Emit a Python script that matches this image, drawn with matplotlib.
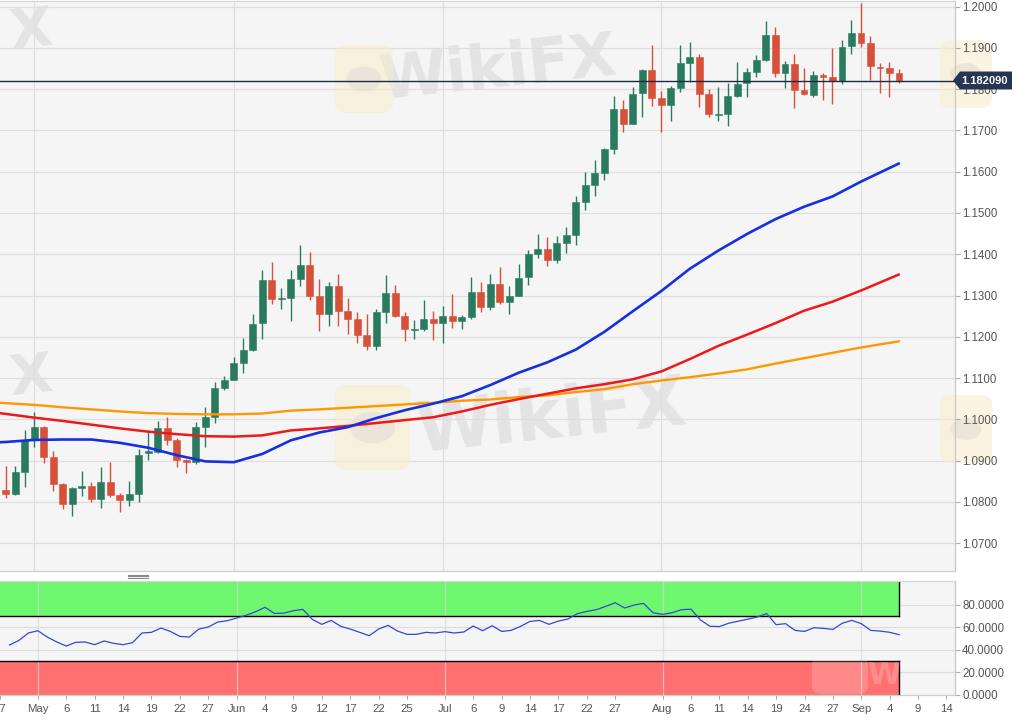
import matplotlib
matplotlib.use("Agg")
import matplotlib.pyplot as plt
import pandas as pd
from matplotlib.patches import Rectangle, Polygon, FancyBboxPatch, Circle

# ---------------- data ----------------
first_day = "2020-04-28"
last_day = "2020-09-07"

opens = [
    1.0829, 1.0819, 1.0872, 1.0952, 1.0981, 1.0908, 1.0843, 1.0795, 1.0833, 1.0838,
    1.0807, 1.0848, 1.0817, 1.0805, 1.0819, 1.0918, 1.0921, 1.0979, 1.0950, 1.0901,
    1.0896, 1.0981, 1.1005, 1.1077, 1.1096, 1.1136, 1.1169, 1.1233, 1.1337, 1.1291,
    1.1294, 1.1341, 1.1375, 1.1299, 1.1255, 1.1323, 1.1263, 1.1243, 1.1205, 1.1177,
    1.1259, 1.1307, 1.1250, 1.1216, 1.1218, 1.1242, 1.1234, 1.1250, 1.1239, 1.1249,
    1.1308, 1.1273, 1.1329, 1.1285, 1.1299, 1.1344, 1.1400, 1.1412, 1.1385, 1.1428,
    1.1447, 1.1526, 1.1569, 1.1596, 1.1656, 1.1751, 1.1716, 1.1791, 1.1847, 1.1778,
    1.1762, 1.1803, 1.1864, 1.1877, 1.1788, 1.1737, 1.1740, 1.1784, 1.1814, 1.1842,
    1.1871, 1.1931, 1.1839, 1.1861, 1.1797, 1.1786, 1.1834, 1.1830, 1.1821, 1.1904,
    1.1937, 1.1912, 1.1854, 1.1851, 1.1839]
highs = [
    1.0886, 1.0886, 1.0973, 1.1017, 1.0983, 1.0922, 1.0845, 1.0835, 1.0874, 1.0848,
    1.0884, 1.0896, 1.0821, 1.0850, 1.0927, 1.0973, 1.0996, 1.1005, 1.0955, 1.0903,
    1.0993, 1.1029, 1.1090, 1.1104, 1.1151, 1.1196, 1.1256, 1.1361, 1.1382, 1.1319,
    1.1363, 1.1422, 1.1405, 1.1339, 1.1332, 1.1353, 1.1293, 1.1261, 1.1254, 1.1268,
    1.1349, 1.1325, 1.1259, 1.1241, 1.1289, 1.1263, 1.1274, 1.1303, 1.1253, 1.1344,
    1.1332, 1.1351, 1.1369, 1.1324, 1.1376, 1.1410, 1.1450, 1.1441, 1.1444, 1.1466,
    1.1541, 1.1600, 1.1628, 1.1658, 1.1783, 1.1773, 1.1805, 1.1848, 1.1908, 1.1796,
    1.1807, 1.1907, 1.1915, 1.1885, 1.1801, 1.1805, 1.1815, 1.1865, 1.1851, 1.1883,
    1.1966, 1.1951, 1.1869, 1.1885, 1.1851, 1.1845, 1.1839, 1.1901, 1.1920, 1.1968,
    1.2010, 1.1928, 1.1864, 1.1865, 1.1848]
lows = [
    1.0809, 1.0817, 1.0836, 1.0933, 1.0895, 1.0826, 1.0783, 1.0766, 1.0814, 1.0800,
    1.0785, 1.0812, 1.0776, 1.0790, 1.0800, 1.0901, 1.0919, 1.0938, 1.0885, 1.0870,
    1.0891, 1.0933, 1.0991, 1.1071, 1.1095, 1.1113, 1.1166, 1.1194, 1.1279, 1.1268,
    1.1239, 1.1322, 1.1288, 1.1214, 1.1225, 1.1227, 1.1206, 1.1185, 1.1169, 1.1167,
    1.1233, 1.1247, 1.1190, 1.1195, 1.1214, 1.1193, 1.1185, 1.1222, 1.1219, 1.1242,
    1.1259, 1.1265, 1.1279, 1.1255, 1.1298, 1.1325, 1.1390, 1.1372, 1.1378, 1.1404,
    1.1423, 1.1508, 1.1541, 1.1581, 1.1643, 1.1697, 1.1715, 1.1733, 1.1760, 1.1697,
    1.1723, 1.1794, 1.1818, 1.1757, 1.1733, 1.1723, 1.1711, 1.1782, 1.1782, 1.1829,
    1.1869, 1.1830, 1.1802, 1.1754, 1.1786, 1.1782, 1.1774, 1.1765, 1.1813, 1.1886,
    1.1902, 1.1822, 1.1790, 1.1781, 1.1814]
closes = [
    1.0819, 1.0872, 1.0951, 1.0981, 1.0909, 1.0843, 1.0795, 1.0833, 1.0838, 1.0807,
    1.0848, 1.0817, 1.0805, 1.0819, 1.0913, 1.0922, 1.0979, 1.0950, 1.0902, 1.0896,
    1.0981, 1.1005, 1.1077, 1.1096, 1.1136, 1.1169, 1.1232, 1.1337, 1.1291, 1.1294,
    1.1340, 1.1375, 1.1300, 1.1255, 1.1323, 1.1263, 1.1243, 1.1205, 1.1177, 1.1259,
    1.1307, 1.1250, 1.1218, 1.1218, 1.1242, 1.1234, 1.1250, 1.1239, 1.1247, 1.1308,
    1.1273, 1.1329, 1.1285, 1.1299, 1.1343, 1.1400, 1.1412, 1.1385, 1.1428, 1.1446,
    1.1526, 1.1569, 1.1596, 1.1656, 1.1751, 1.1716, 1.1789, 1.1847, 1.1778, 1.1762,
    1.1802, 1.1863, 1.1877, 1.1789, 1.1739, 1.1740, 1.1783, 1.1813, 1.1842, 1.1871,
    1.1931, 1.1839, 1.1861, 1.1797, 1.1788, 1.1834, 1.1830, 1.1821, 1.1903, 1.1937,
    1.1913, 1.1856, 1.1852, 1.1840, 1.18209]

# moving averages, read at every third trading day (0 = Apr 28)
ma_day = [-1, 0, 3, 6, 9, 12, 15, 18, 21, 24, 27, 30, 33, 36, 39, 42, 45, 48,
          51, 54, 57, 60, 63, 66, 69, 72, 75, 78, 81, 84, 87, 90, 94]
ma_blue = [1.0944, 1.0945, 1.0950, 1.0951, 1.0951, 1.0943, 1.0931, 1.0913, 1.0898,
           1.0896, 1.0916, 1.0949, 1.0968, 1.0981, 1.1003, 1.1022, 1.1038, 1.1056,
           1.1083, 1.1113, 1.1138, 1.1169, 1.1212, 1.1262, 1.1311, 1.1365, 1.1409,
           1.1449, 1.1485, 1.1515, 1.1540, 1.1576, 1.1620]
ma_red = [1.1016, 1.1013, 1.1004, 1.0996, 1.0987, 1.0978, 1.0970, 1.0964, 1.0959,
          1.0958, 1.0961, 1.0973, 1.0978, 1.0984, 1.0991, 1.0998, 1.1005, 1.1019,
          1.1035, 1.1049, 1.1062, 1.1075, 1.1085, 1.1097, 1.1116, 1.1146, 1.1178,
          1.1205, 1.1233, 1.1263, 1.1285, 1.1312, 1.1351]
ma_orange = [1.1041, 1.1039, 1.1035, 1.1029, 1.1024, 1.1019, 1.1015, 1.1013, 1.1012,
             1.1012, 1.1014, 1.1021, 1.1024, 1.1028, 1.1032, 1.1036, 1.1040, 1.1045,
             1.1048, 1.1054, 1.1058, 1.1066, 1.1073, 1.1085, 1.1094, 1.1102, 1.1111,
             1.1121, 1.1135, 1.1148, 1.1161, 1.1174, 1.1189]

rsi = [
    44.0, 48.1, 54.7, 56.7, 51.1, 46.7, 43.1, 46.4, 46.7, 44.3,
    47.6, 45.5, 44.3, 46.1, 54.7, 55.3, 59.1, 56.1, 51.7, 51.1,
    58.2, 60.0, 64.4, 65.6, 68.0, 70.4, 73.6, 77.5, 72.1, 72.4,
    74.5, 75.7, 66.8, 62.4, 65.9, 60.6, 58.2, 55.3, 52.3, 58.2,
    61.5, 56.4, 53.5, 53.5, 55.3, 54.7, 55.9, 54.7, 55.6, 60.9,
    56.7, 61.2, 56.1, 57.0, 60.6, 65.0, 65.9, 62.4, 65.3, 67.1,
    71.9, 73.9, 75.4, 78.4, 81.6, 76.9, 79.6, 81.0, 72.7, 71.3,
    72.7, 75.4, 75.9, 66.4, 60.7, 60.4, 63.4, 65.2, 67.0, 68.9,
    71.9, 62.1, 63.0, 57.0, 56.1, 59.4, 58.8, 57.9, 63.4, 65.9,
    63.0, 57.0, 56.4, 55.3, 53.2]

last_price = 1.182090
rsi_upper, rsi_lower = 70, 30

tick_dates = ["2020-04-27", "2020-05-01", "2020-05-06", "2020-05-11", "2020-05-14",
              "2020-05-19", "2020-05-22", "2020-05-27", "2020-06-01", "2020-06-04",
              "2020-06-09", "2020-06-12", "2020-06-17", "2020-06-22", "2020-06-25",
              "2020-07-01", "2020-07-06", "2020-07-09", "2020-07-14", "2020-07-17",
              "2020-07-22", "2020-07-27", "2020-08-03", "2020-08-06", "2020-08-11",
              "2020-08-14", "2020-08-19", "2020-08-24", "2020-08-27", "2020-09-01",
              "2020-09-04", "2020-09-09", "2020-09-14"]
tick_labels = ["27", "May", "6", "11", "14", "19", "22", "27", "Jun", "4", "9", "12",
               "17", "22", "25", "Jul", "6", "9", "14", "17", "22", "27", "Aug", "6",
               "11", "14", "19", "24", "27", "Sep", "4", "9", "14"]
month_dates = ["2020-05-01", "2020-06-01", "2020-07-01", "2020-08-03", "2020-09-01"]
price_ticks = [1.07, 1.08, 1.09, 1.10, 1.11, 1.12, 1.13, 1.14, 1.15, 1.16, 1.17, 1.18, 1.19, 1.20]
rsi_ticks = [0, 20, 40, 60, 80]

# ---------------- layout helpers ----------------
W, H = 1027, 721
def fx(x):
    return x / W
def fy(y):
    return 1 - y / H

days = pd.bdate_range("2020-04-27", "2020-09-14")
t0 = pd.Timestamp(first_day)
pos = {d.strftime("%Y-%m-%d"): (i - list(days).index(t0)) for i, d in enumerate(days)}
n = len(closes)
xs = list(range(n))
tick_pos = [pos[d] for d in tick_dates]
month_pos = [pos[d] for d in month_dates]

GREEN = "#2a7b5e"
RED = "#d6503a"
BG = "#f5f5f5"
GRID = "#dedede"
LBL = "#555555"
FONT = "Liberation Sans"

fig = plt.figure(figsize=(W / 100, H / 100), dpi=100)
fig.patch.set_facecolor("white")

xlim = (-0.61, 99.9)

# ---------------- main price panel ----------------
ax = fig.add_axes([0, fy(571), fx(955), (571 - 1) / H])
ax.set_facecolor(BG)
ax.set_xlim(*xlim)
ax.set_ylim(1.06323, 1.20138)

for p in price_ticks:
    ax.axhline(p, color=GRID, lw=0.9, zorder=0.5)
for m in month_pos:
    ax.axvline(m, color=GRID, lw=0.9, zorder=0.5)

# watermarks (behind the data)
def watermark(axx, x, y, size, rot, txt="WikiFX"):
    axx.text(fx(x), fy(y), txt, transform=fig.transFigure, fontsize=size,
             fontweight="bold", family="DejaVu Sans", color="#dedede", alpha=0.75,
             rotation=rot, ha="center", va="center", zorder=0.6, clip_on=True)

def icon(axx, x0, y0, w, h):
    axx.add_patch(FancyBboxPatch((fx(x0), fy(y0 + h)), fx(w), h / H,
                                 boxstyle="round,pad=0,rounding_size=0.012",
                                 transform=fig.transFigure, facecolor="#f8eccb",
                                 edgecolor="none", alpha=0.55, zorder=0.6, clip_on=False))
    axx.add_patch(Circle((fx(x0 + w / 2), fy(y0 + h / 2)), fx(w * 0.3),
                         transform=fig.transFigure, facecolor="#e2ded6", edgecolor="none",
                         alpha=0.6, zorder=0.65, clip_on=False))

watermark(ax, 498, 70, 44, 6)
icon(ax, 335, 45, 58, 68)
watermark(ax, 552, 418, 50, 6)
icon(ax, 335, 385, 75, 85)
watermark(ax, 32, 32, 40, 6, "X")
watermark(ax, 32, 378, 40, 6, "X")

# candles
for i in xs:
    o, h, l, c = opens[i], highs[i], lows[i], closes[i]
    col = GREEN if c >= o else RED
    ax.vlines(i, l, h, color=col, lw=1.0, zorder=2)
    bottom = min(o, c)
    height = max(abs(c - o), 0.00022)
    ax.add_patch(Rectangle((i - 0.36, bottom), 0.72, height, facecolor=col,
                           edgecolor=col, lw=0.4, zorder=2.1))

# moving averages
ax.plot(ma_day, ma_orange, color="#ff9800", lw=1.7, zorder=3, solid_capstyle="round")
ax.plot(ma_day, ma_red, color="#f01818", lw=1.8, zorder=3.1, solid_capstyle="round")
ax.plot(ma_day, ma_blue, color="#1530e0", lw=1.9, zorder=3.2, solid_capstyle="round")

# last price line
ax.axhline(last_price, color="#1c2a47", lw=1.0, zorder=4)

ax.set_xticks([])
ax.yaxis.tick_right()
ax.set_yticks(price_ticks)
ax.set_yticklabels([f"{p:.4f}" for p in price_ticks], family=FONT, fontsize=8.3, color=LBL)
ax.tick_params(axis="y", length=3.6, width=0.8, color="#aaaaaa", pad=1.5)
ax.spines["left"].set_visible(False)
ax.spines["right"].set_color("#c8c8c8")
ax.spines["top"].set_color("#d6d6d6")
ax.spines["bottom"].set_color("#cfcfcf")
for s in ax.spines.values():
    s.set_linewidth(0.9)

# right-side icons (over the axis area, faint)
icon(ax, 940, 40, 52, 68)
icon(ax, 940, 395, 52, 68)

# price label box
y_lp = 80.5
poly = Polygon([(fx(953), fy(y_lp)), (fx(960), fy(71.5)), (fx(1012), fy(71.5)),
                (fx(1012), fy(89.5)), (fx(960), fy(89.5))], closed=True,
               transform=fig.transFigure, facecolor="#263552", edgecolor="none", zorder=10)
fig.add_artist(poly)
fig.text(fx(985), fy(y_lp), f"{last_price:.6f}", color="white", fontsize=8.0,
         fontweight="bold", family=FONT, ha="center", va="center", zorder=11)

# separator handle
for yy in (574.6, 576.3, 578.0):
    fig.add_artist(plt.Line2D([fx(128), fx(148)], [fy(yy), fy(yy)], color="#8a8a8a",
                              lw=0.8, transform=fig.transFigure))

# ---------------- RSI panel ----------------
ax2 = fig.add_axes([0, fy(694.5), fx(955), (694.5 - 580.7) / H])
ax2.set_facecolor(BG)
ax2.set_xlim(*xlim)
ax2.set_ylim(0, 101.2)

last_x = xs[-1]
ax2.add_patch(Rectangle((xlim[0] - 1, rsi_upper), last_x - xlim[0] + 1, 100 - rsi_upper,
                        facecolor="#70f770", edgecolor="none", zorder=0.8))
ax2.add_patch(Rectangle((xlim[0] - 1, 0), last_x - xlim[0] + 1, rsi_lower,
                        facecolor="#ff7070", edgecolor="none", zorder=0.8))
for r in rsi_ticks[1:]:
    ax2.axhline(r, color=GRID, lw=0.9, zorder=0.5)
for m in month_pos:
    ax2.axvline(m, color="#d8d8d8", lw=0.9, zorder=0.9, alpha=0.7)
ax2.plot([xlim[0] - 1, last_x], [rsi_upper, rsi_upper], color="black", lw=1.0, zorder=1.5)
ax2.plot([xlim[0] - 1, last_x], [rsi_lower, rsi_lower], color="black", lw=1.0, zorder=1.5)
ax2.plot([last_x, last_x], [rsi_upper, 100], color="black", lw=1.0, zorder=1.5)
ax2.plot([last_x, last_x], [0, rsi_lower], color="black", lw=1.0, zorder=1.5)

ax2.plot(xs, rsi, color="#3347d6", lw=0.9, zorder=3)

# faint watermark on RSI bands
ax2.add_patch(FancyBboxPatch((fx(812), fy(694)), fx(56), 38 / H,
                             boxstyle="round,pad=0,rounding_size=0.01",
                             transform=fig.transFigure, facecolor="white",
                             edgecolor="none", alpha=0.18, zorder=2, clip_on=True))
ax2.text(fx(884), fy(676), "W", transform=fig.transFigure, fontsize=22, fontweight="bold",
         color="white", alpha=0.2, ha="center", va="center", zorder=2, clip_on=True)

ax2.yaxis.tick_right()
ax2.set_yticks(rsi_ticks)
ax2.set_yticklabels([f"{r:.4f}" for r in rsi_ticks], family=FONT, fontsize=8.3, color=LBL)
ax2.tick_params(axis="y", length=3.6, width=0.8, color="#aaaaaa", pad=1.5)
ax2.set_xticks(tick_pos)
ax2.set_xticklabels(tick_labels, family=FONT, fontsize=8.2, color=LBL)
ax2.tick_params(axis="x", length=3, width=0.8, color="#aaaaaa", pad=3.5)
ax2.spines["left"].set_visible(False)
ax2.spines["right"].set_color("#c8c8c8")
ax2.spines["top"].set_color("#d6d6d6")
ax2.spines["bottom"].set_color("#cfcfcf")
for s in ax2.spines.values():
    s.set_linewidth(0.9)

fig.savefig("out.png", dpi=100, facecolor="white")
